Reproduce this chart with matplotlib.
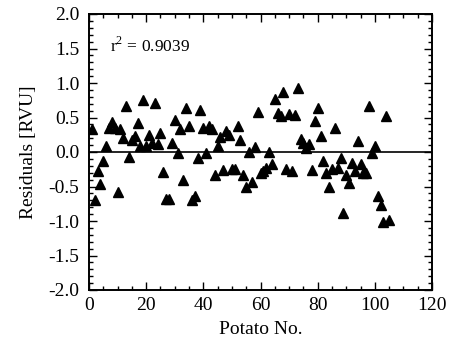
import matplotlib
matplotlib.use("Agg")
import matplotlib.pyplot as plt
from matplotlib.ticker import MultipleLocator

potato_no = list(range(1, 106))
residuals = [
    0.33, -0.69, -0.28, -0.46, -0.13, 0.08, 0.35, 0.43, 0.35, -0.58,
    0.33, 0.20, 0.67, -0.07, 0.18, 0.23, 0.42, 0.08, 0.75, 0.08,
    0.25, 0.13, 0.71, 0.11, 0.27, -0.29, -0.68, -0.68, 0.13, 0.47,
    -0.01, 0.34, -0.40, 0.64, 0.37, -0.69, -0.64, -0.08, 0.61, 0.35,
    -0.02, 0.38, 0.33, -0.33, 0.09, 0.22, -0.26, 0.30, 0.25, -0.24,
    -0.24, 0.37, 0.18, -0.34, -0.51, 0.00, -0.43, 0.07, 0.58, -0.30,
    -0.28, -0.23, 0.00, -0.17, 0.77, 0.57, 0.52, 0.87, -0.24, 0.55,
    -0.28, 0.53, 0.93, 0.19, 0.13, 0.06, 0.11, -0.26, 0.45, 0.64,
    0.23, -0.13, -0.30, -0.51, -0.25, 0.35, -0.23, -0.09, -0.89, -0.33,
    -0.45, -0.16, -0.28, 0.16, -0.17, -0.31, -0.30, 0.66, -0.01, 0.08,
    -0.64, -0.77, -1.02, 0.52, -0.98,
]
r2_text = "r$^2$ = 0.9039"

plt.rcParams['font.family'] = ['Liberation Serif', 'DejaVu Serif']
plt.rcParams['mathtext.fontset'] = 'custom'
plt.rcParams['mathtext.rm'] = 'Liberation Serif'
plt.rcParams['axes.unicode_minus'] = False

fig = plt.figure(figsize=(4.54, 3.47), dpi=100)
ax = fig.add_axes([89 / 454, 1 - 290 / 347, 343 / 454, 276 / 347])

ax.plot(potato_no, residuals, linestyle='none', marker='^', color='black', markersize=7.5)
ax.axhline(0, color='black', linewidth=1.2)

ax.set_xlim(0, 120)
ax.set_ylim(-2.0, 2.0)
ax.xaxis.set_major_locator(MultipleLocator(20))
ax.xaxis.set_minor_locator(MultipleLocator(5))
ax.yaxis.set_major_locator(MultipleLocator(0.5))
ax.yaxis.set_minor_locator(MultipleLocator(0.1))
ax.yaxis.set_major_formatter(plt.FuncFormatter(lambda v, p: f"{v:.1f}"))

ax.tick_params(which='both', direction='in', top=True, right=True, labelsize=14, color='black')
ax.tick_params(axis='x', which='major', pad=5)
ax.tick_params(axis='y', which='major', pad=7)
ax.tick_params(which='major', length=6, width=1)
ax.tick_params(which='minor', length=3, width=1)
for s in ax.spines.values():
    s.set_linewidth(1.4)

ax.set_xlabel("Potato No.", fontsize=14, labelpad=5)
ax.set_ylabel("Residuals [RVU]", fontsize=14, labelpad=8)
ax.text(7.3, 1.53, r2_text, fontsize=12.5, va='center', ha='left')

fig.savefig("out.png", dpi=100)
